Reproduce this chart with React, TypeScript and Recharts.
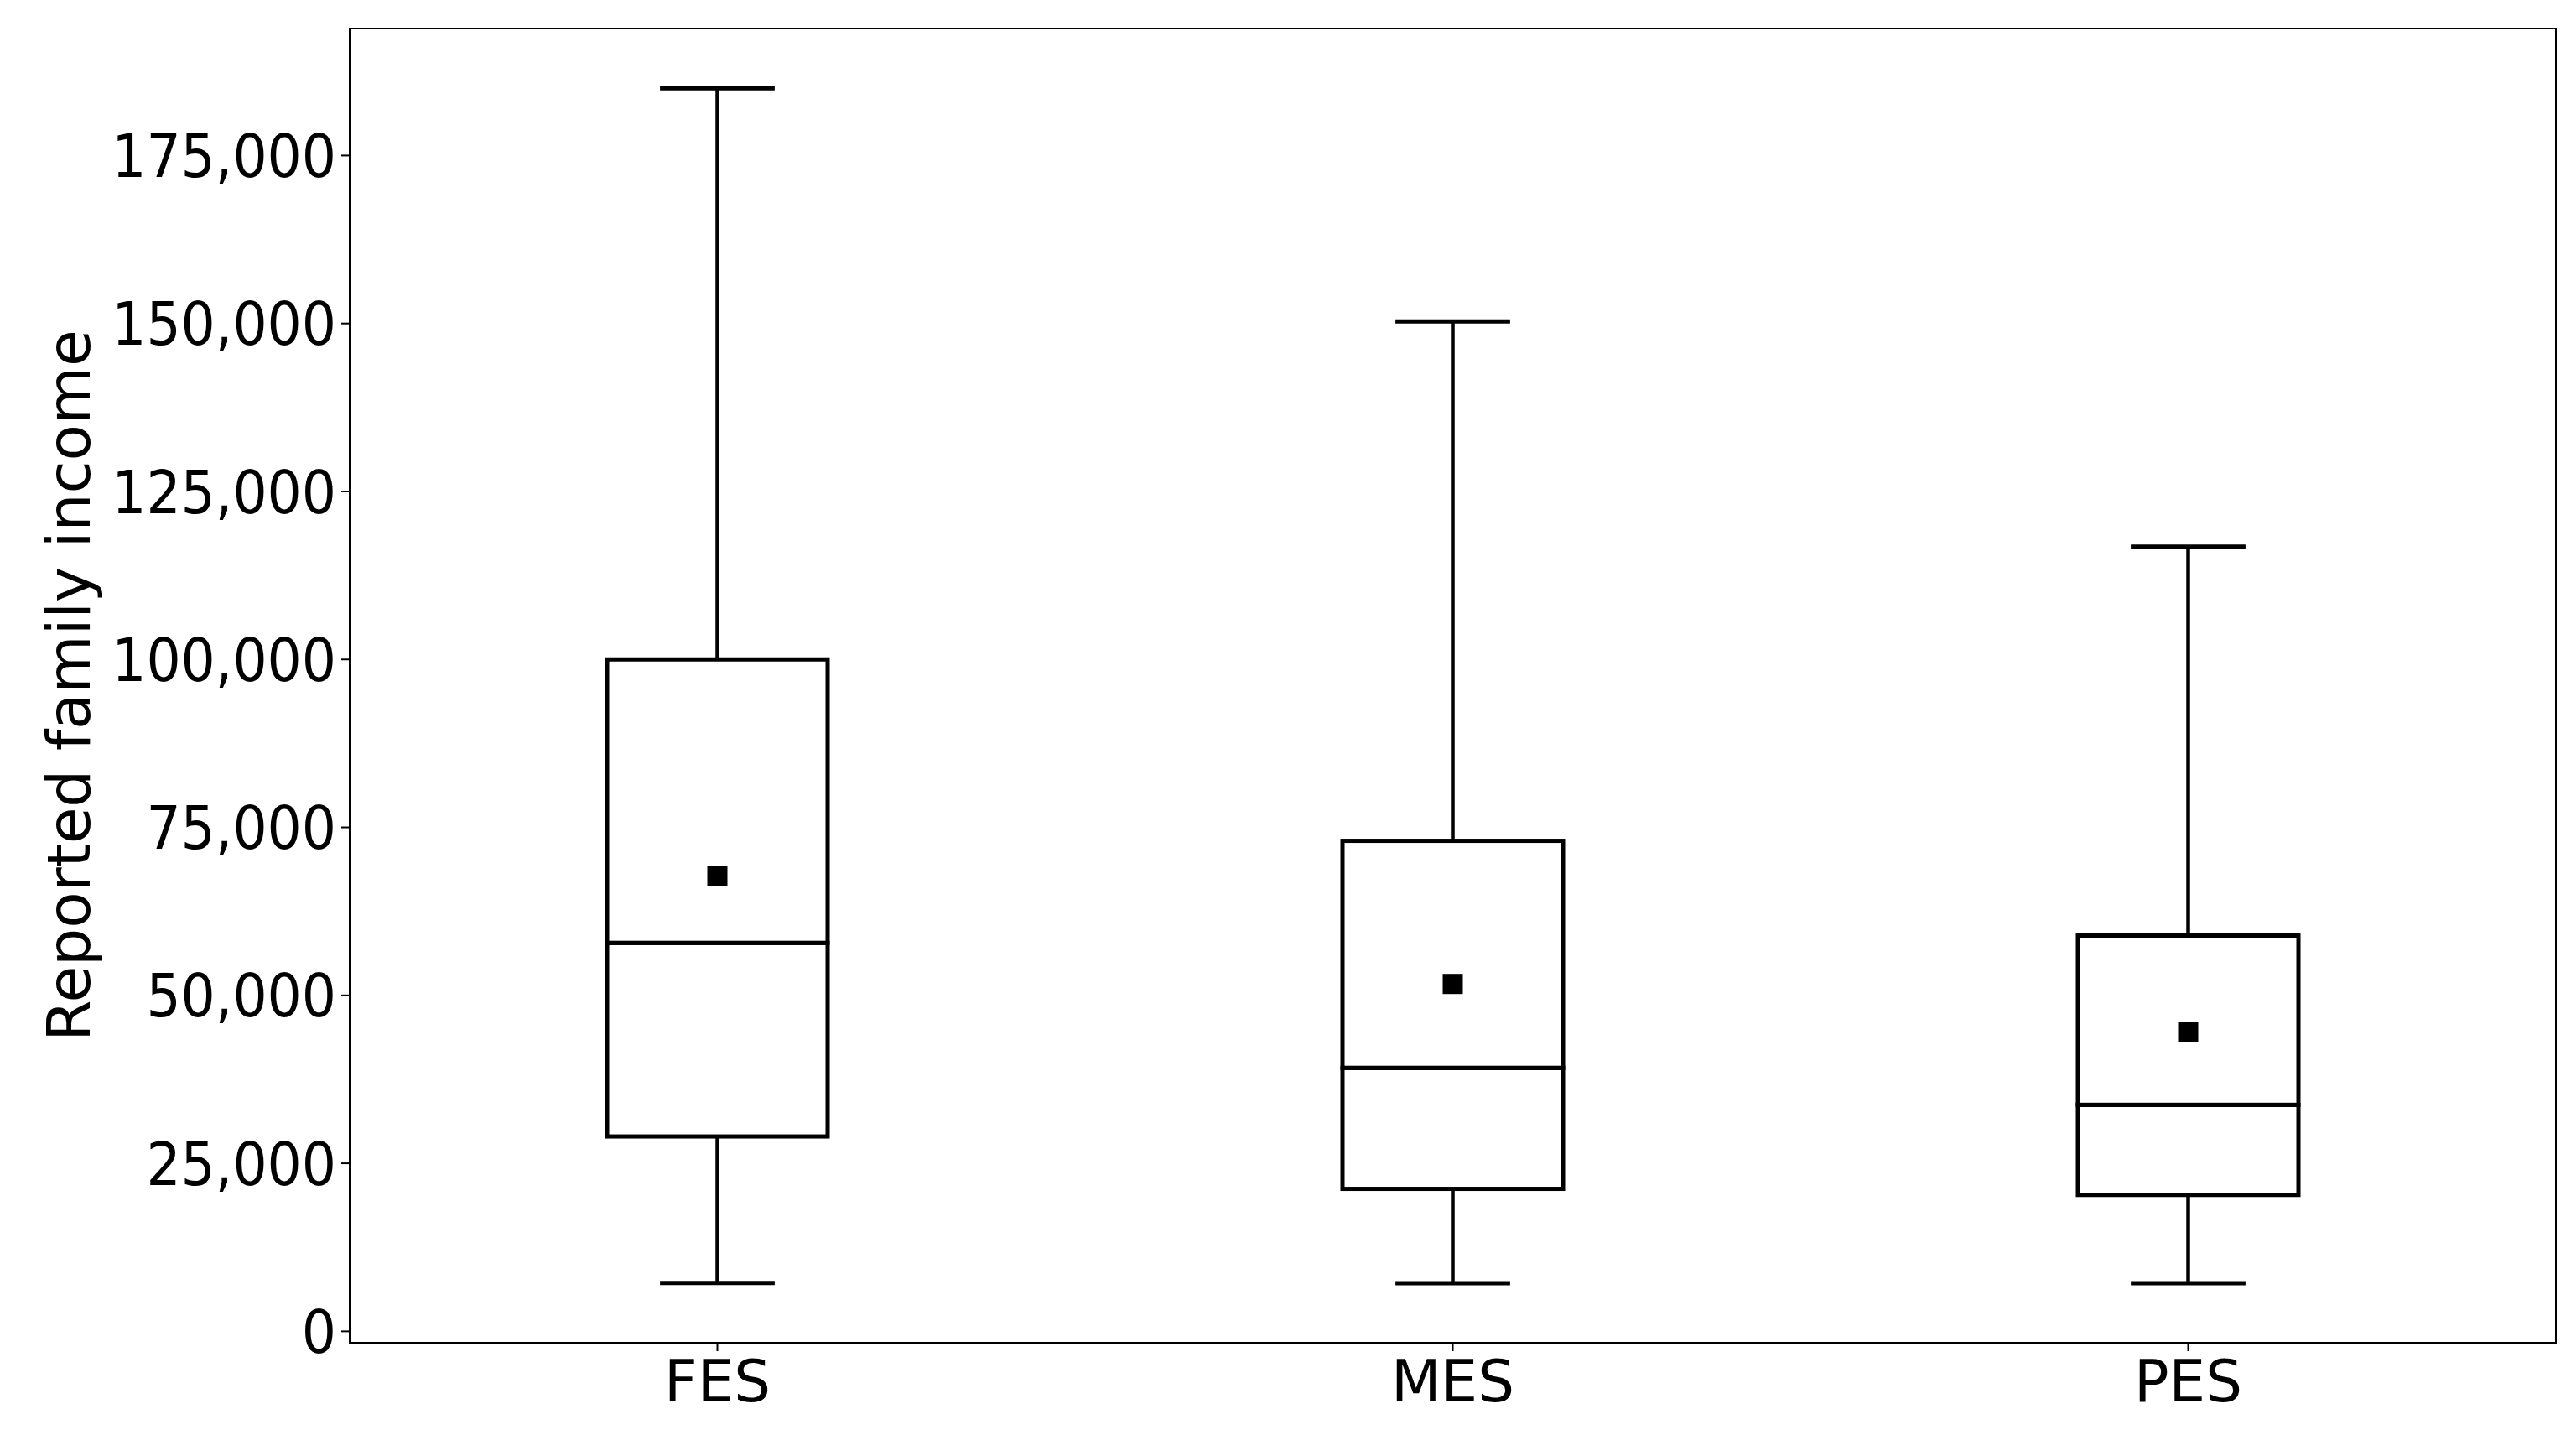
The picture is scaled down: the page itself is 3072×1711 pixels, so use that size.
import React from 'react';
import { ComposedChart, Bar, Scatter, XAxis, YAxis, ReferenceArea } from 'recharts';

const groups = ['FES', 'MES', 'PES'];
const whiskerLow = [7200, 7150, 7150];
const quartile1 = [29000, 21200, 20300];
const medians = [57800, 39200, 33700];
const quartile3 = [100000, 73000, 58900];
const whiskerHigh = [185000, 150300, 116800];
const means = [67800, 51700, 44600];
const yTicks = [0, 25000, 50000, 75000, 100000, 125000, 150000, 175000];
const yDomain = [-1700, 193900];

// stacked segments: base -> lower whisker -> lower box -> upper box -> upper whisker
const data = groups.map((name, i) => ({
    name,
    base: whiskerLow[i],
    lowWhisker: quartile1[i] - whiskerLow[i],
    lowBox: medians[i] - quartile1[i],
    highBox: quartile3[i] - medians[i],
    highWhisker: whiskerHigh[i] - quartile3[i],
    mean: means[i],
}));

const CONDENSED = '"DejaVu Sans Condensed", "DejaVu Sans", sans-serif';
const REGULAR = '"DejaVu Sans", sans-serif';
const LW = 5;

const BoxPart = (props: any) => {
    const { x, y, width, height } = props;
    return <rect x={x} y={y} width={width} height={height} fill="none" stroke="#000" strokeWidth={LW} />;
};

const Whisker = (top: boolean) => (props: any) => {
    const { x, y, width, height } = props;
    const cx = x + width / 2;
    const capY = top ? y : y + height;
    const capW = width * 0.52;
    return (
        <g>
            <line x1={cx} x2={cx} y1={y} y2={y + height} stroke="#000" strokeWidth={4.5} />
            <line x1={cx - capW / 2} x2={cx + capW / 2} y1={capY} y2={capY} stroke="#000" strokeWidth={LW} />
        </g>
    );
};

const MeanMark = (props: any) => {
    const { cx, cy } = props;
    return <rect x={cx - 12} y={cy - 12} width={24} height={24} fill="#000" />;
};

const YTitle = (props: any) => {
    const vb = props.viewBox || { x: 0, y: 34, height: 1567 };
    const cx = 82;
    const cy = vb.y + vb.height / 2;
    return (
        <text x={cx} y={cy} transform={`rotate(-90 ${cx} ${cy})`} textAnchor="middle" dominantBaseline="central"
            fontSize={71} fontFamily={REGULAR} fill="#000">
            Reported family income
        </text>
    );
};

export default function App() {
    return (
        <div style={{ position: 'absolute', left: 0, top: 0, background: '#fff' }}>
            <ComposedChart width={3072} height={1711} data={data} margin={{ top: 34, right: 24, bottom: 0, left: 0 }}>
                <XAxis dataKey="name" height={110} tick={{ fontSize: 69, fill: '#000', fontFamily: REGULAR }}
                    tickSize={10} tickMargin={11}
                    axisLine={{ stroke: '#000', strokeWidth: 2 }} tickLine={{ stroke: '#000', strokeWidth: 2 }} />
                <YAxis type="number" domain={yDomain} ticks={yTicks} allowDataOverflow width={417}
                    tick={{ fontSize: 72, fill: '#000', fontFamily: CONDENSED }} tickSize={10} tickMargin={6}
                    tickFormatter={(v: number) => v.toLocaleString('en-US')}
                    axisLine={{ stroke: '#000', strokeWidth: 2 }} tickLine={{ stroke: '#000', strokeWidth: 2 }}
                    label={<YTitle />} />
                <ReferenceArea y1={yDomain[0]} y2={yDomain[1]} fill="none" stroke="#000" strokeWidth={2} ifOverflow="visible" />
                <Bar dataKey="base" stackId="box" barSize={263} fill="none" isAnimationActive={false} />
                <Bar dataKey="lowWhisker" stackId="box" barSize={263} shape={Whisker(false)} isAnimationActive={false} />
                <Bar dataKey="lowBox" stackId="box" barSize={263} shape={BoxPart} isAnimationActive={false} />
                <Bar dataKey="highBox" stackId="box" barSize={263} shape={BoxPart} isAnimationActive={false} />
                <Bar dataKey="highWhisker" stackId="box" barSize={263} shape={Whisker(true)} isAnimationActive={false} />
                <Scatter dataKey="mean" shape={MeanMark} isAnimationActive={false} />
            </ComposedChart>
        </div>
    );
}
